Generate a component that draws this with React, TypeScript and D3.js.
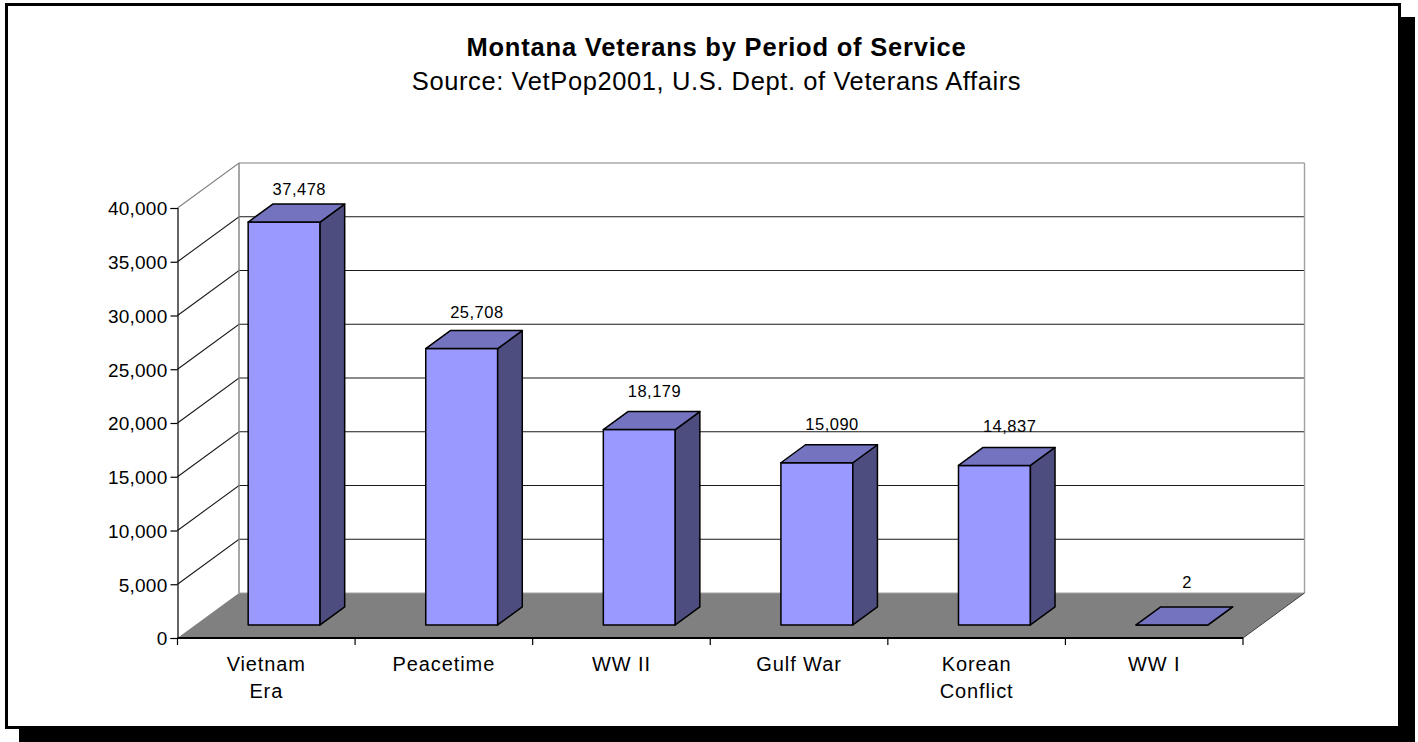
import { useRef, useEffect } from 'react';
import * as d3 from 'd3';

const categories = ['Vietnam Era', 'Peacetime', 'WW II', 'Gulf War', 'Korean Conflict', 'WW I'];
const categoryLines = [['Vietnam', 'Era'], ['Peacetime'], ['WW II'], ['Gulf War'], ['Korean', 'Conflict'], ['WW I']];
const veterans = [37478, 25708, 18179, 15090, 14837, 2];
const yTicks = [0, 5000, 10000, 15000, 20000, 25000, 30000, 35000, 40000];
const chartTitle = 'Montana Veterans by Period of Service';
const chartSource = 'Source: VetPop2001, U.S. Dept. of Veterans Affairs';

const WIDTH = 1418;
const HEIGHT = 742;
const FONT = '"Liberation Sans", Arial, sans-serif';

export default function App() {
  const svgRef = useRef<SVGSVGElement>(null);

  useEffect(() => {
    if (!svgRef.current) return;
    const svg = d3.select(svgRef.current);
    svg.selectAll('*').remove();

    // Frame and drop shadow
    svg.append('rect').attr('x', 19).attr('y', 17).attr('width', 1396).attr('height', 725).attr('fill', '#000');
    svg.append('rect').attr('x', 6.5).attr('y', 4.5).attr('width', 1393).attr('height', 723)
      .attr('fill', '#fff').attr('stroke', '#000').attr('stroke-width', 3);

    const title = (text: string, y: number, size: number, weight: string, spacing: number) =>
      svg.append('text').attr('x', 716.5).attr('y', y).attr('text-anchor', 'middle')
        .attr('font-family', FONT).attr('font-size', size).attr('font-weight', weight)
        .attr('letter-spacing', spacing).attr('fill', '#000').text(text);
    title(chartTitle, 56, 25.5, 'bold', 0.8);
    title(chartSource, 90, 25.5, 'normal', 0.6);

    const x = d3.scaleBand<string>().domain(categories).range([177.5, 1243]).paddingInner(0.595).paddingOuter(0.2975);
    const y = d3.scaleLinear().domain([0, 40000]).range([638, 208]);
    const depthX = d3.scaleLinear().domain([0, 1]).range([0, 61.5]);
    const depthY = d3.scaleLinear().domain([0, 1]).range([0, 45]);
    const labelY = d3.scaleLinear().domain([0, 37478]).range([588, 195]);

    // px on the front plane, value, depth 0..1 from front to back wall
    const pt = (px: number, v: number, d: number): [number, number] => [px + depthX(d), y(v) - depthY(d)];
    const poly = d3.line();
    const [x0, x1] = x.range();
    const top = 40000;

    // Back wall and floor
    svg.append('path').attr('d', poly([pt(x0, top, 1), pt(x1, top, 1), pt(x1, 0, 1), pt(x0, 0, 1)]) + 'Z').attr('fill', '#fff');
    svg.append('path').attr('d', poly([pt(x0, 0, 0), pt(x1, 0, 0), pt(x1, 0, 1), pt(x0, 0, 1)]) + 'Z').attr('fill', '#808080');

    // Gridlines run along the side wall and then across the back wall
    yTicks.filter((t) => t > 0).forEach((t) => {
      svg.append('path')
        .attr('d', poly([pt(x0, t, 0), pt(x0, t, 1), pt(x1, t, 1)]))
        .attr('fill', 'none')
        .attr('stroke', t === top ? '#808080' : '#1a1a1a')
        .attr('stroke-width', 1.1);
    });
    svg.append('path').attr('d', poly([pt(x0, 0, 1), pt(x0, top, 1)])).attr('stroke', '#808080').attr('stroke-width', 1.4);
    svg.append('path').attr('d', poly([pt(x1, 0, 1), pt(x1, top, 1)])).attr('stroke', '#a0a0a0').attr('stroke-width', 1.4);
    svg.append('path').attr('d', poly([pt(x0, 0, 1), pt(x1, 0, 1)])).attr('stroke', '#a0a0a0').attr('stroke-width', 1);
    svg.append('path').attr('d', poly([pt(x1, 0, 0), pt(x1, 0, 1)])).attr('stroke', '#404040').attr('stroke-width', 1);

    // Bars: a box set back from the front plane
    const front = 0.29;
    const back = 0.69;
    const bars = svg.append('g').attr('stroke', '#000').attr('stroke-width', 1.5).attr('stroke-linejoin', 'round');
    categories.forEach((c, i) => {
      const v = veterans[i];
      const l = x(c)!;
      const r = l + x.bandwidth();
      bars.append('path')
        .attr('d', poly([pt(l, 0, front), pt(r, 0, front), pt(r, v, front), pt(l, v, front)]) + 'Z')
        .attr('fill', '#9999ff');
      bars.append('path')
        .attr('d', poly([pt(r, 0, front), pt(r, 0, back), pt(r, v, back), pt(r, v, front)]) + 'Z')
        .attr('fill', '#4d4d80');
      bars.append('path')
        .attr('d', poly([pt(l, v, front), pt(r, v, front), pt(r, v, back), pt(l, v, back)]) + 'Z')
        .attr('fill', '#7373bf');

      svg.append('text')
        .attr('x', l + x.bandwidth() / 2 + 33)
        .attr('y', labelY(v))
        .attr('text-anchor', 'middle')
        .attr('font-family', FONT)
        .attr('font-size', 16.5)
        .attr('letter-spacing', 0.5)
        .attr('fill', '#000')
        .text(d3.format(',')(v));
    });

    // Value axis
    const yAxis = svg.append('g')
      .attr('transform', `translate(${x0},0)`)
      .call(d3.axisLeft(y).tickValues(yTicks).tickSize(7).tickPadding(3).tickFormat((d) => d3.format(',')(d as number)));
    yAxis.selectAll('path, line').attr('stroke', '#000').attr('stroke-width', 1.2);
    yAxis.selectAll('text').attr('font-family', FONT).attr('font-size', 19).attr('letter-spacing', 0.25).attr('fill', '#000').attr('dy', '0.36em');

    // Category axis: ticks sit on band edges, so it is drawn by hand from the scale
    const xAxis = svg.append('g').attr('stroke', '#000');
    xAxis.append('path').attr('d', poly([pt(x0, 0, 0), pt(x1, 0, 0)])).attr('stroke-width', 2);
    d3.range(categories.length + 1).forEach((i) => {
      const tx = x0 + x.step() * i;
      xAxis.append('path').attr('d', poly([[tx, y(0)], [tx, y(0) + 7]])).attr('stroke-width', 1.2);
    });
    categories.forEach((c, i) => {
      const cx = x(c)! + x.bandwidth() / 2;
      const label = svg.append('text')
        .attr('text-anchor', 'middle')
        .attr('font-family', FONT)
        .attr('font-size', 20)
        .attr('letter-spacing', 0.9)
        .attr('fill', '#000');
      categoryLines[i].forEach((line, j) => {
        label.append('tspan').attr('x', cx).attr('y', 671 + j * 27).text(line);
      });
    });
  }, []);

  return (
    <svg
      ref={svgRef}
      width={WIDTH}
      height={HEIGHT}
      viewBox={`0 0 ${WIDTH} ${HEIGHT}`}
      style={{ position: 'absolute', left: 0, top: 0, display: 'block' }}
    />
  );
}
